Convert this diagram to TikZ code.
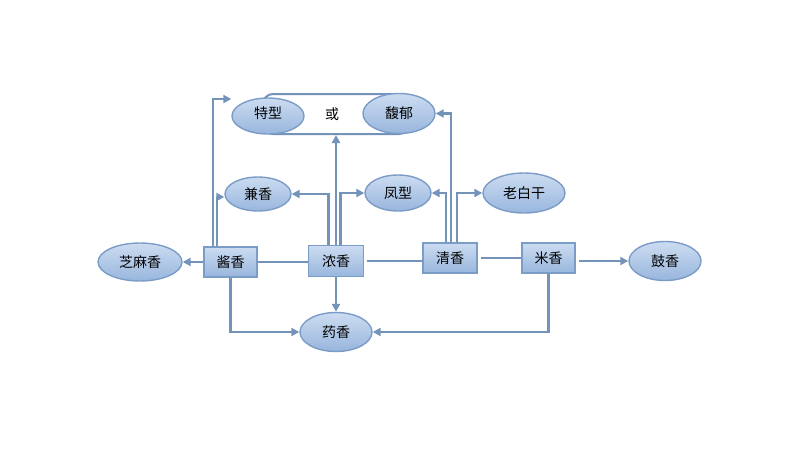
\documentclass[tikz,border=0pt]{standalone}
\usepackage{fontspec}
\newfontfamily\cjk{Noto Sans CJK SC}
\usetikzlibrary{shapes.geometric,arrows.meta}
\definecolor{lineblue}{HTML}{7393BA}
\definecolor{filltop}{HTML}{CCDCF1}
\definecolor{fillbot}{HTML}{98B6DD}
\definecolor{edgeblue}{HTML}{7B9CC6}
\tikzset{
  oval/.style={ellipse, draw=edgeblue, line width=1.4pt, top color=filltop, bottom color=fillbot,
    inner sep=0pt, font=\cjk\fontsize{14}{14}\selectfont},
  boxnode/.style={rectangle, draw=edgeblue, line width=1.8pt, top color=filltop, bottom color=fillbot,
    minimum width=53pt, minimum height=30pt, inner sep=0pt, font=\cjk\fontsize{14}{14}\selectfont},
  conn/.style={draw=lineblue, line width=2.3pt},
  arr/.style={conn, -{Triangle[length=8pt,width=8pt]}},
  grpshape/.style={draw=lineblue, line width=2pt, rounded corners=10pt, minimum width=146pt, minimum height=40pt, inner sep=0pt},
  plain/.style={font=\cjk\fontsize{14}{14}\selectfont, inner sep=0pt}
}
\begin{document}
\begin{tikzpicture}[x=1pt,y=-1pt]
\useasboundingbox (0,0) rectangle (800,456);
\fill[white] (0,0) rectangle (800,456);
% group outline
\node[grpshape] (grp) at (336,114) {};
% ovals
\node[oval, minimum width=72pt, minimum height=36pt] (tx) at (268,116) {};
\node[plain] at (268,113) {特型};
\node[oval, minimum width=72pt, minimum height=40pt] (fy) at (399,113.5) {馥郁};
\node[plain] (huo) at (332,114) {或};
\node[oval, minimum width=66pt, minimum height=34pt] (jxh) at (258,194) {兼香};
\node[oval, minimum width=66pt, minimum height=36pt] (fx) at (398,193) {凤型};
\node[oval, minimum width=82pt, minimum height=40pt] (lb) at (524,193) {老白干};
\node[oval, minimum width=84pt, minimum height=38pt] (zm) at (140,262) {芝麻香};
\node[oval, minimum width=72pt, minimum height=39pt] (gx) at (665,261) {鼓香};
\node[oval, minimum width=72pt, minimum height=39pt] (yx) at (336,332) {药香};
% boxes
\node[boxnode] (jx) at (230.5,262) {酱香};
\node[boxnode, minimum width=55pt, minimum height=31pt] (nx) at (336,261) {浓香};
\node[boxnode, minimum width=54pt] (qx) at (450,258) {清香};
\node[boxnode] (mx) at (548.5,258) {米香};
% connectors
\draw[arr] (jx.west) -- (zm.east);
\draw[conn] (jx.east) -- (jx.east -| nx.west);
\draw[conn] ([xshift=3pt]nx.east) -- (nx.east -| qx.west);
\draw[conn] ([xshift=3pt]qx.east) -- (mx.west);
\draw[arr] ([xshift=3pt]mx.east |- gx.west) -- (gx.west);
\draw[arr] (jx.south) |- (yx.west);
\draw[arr] (mx.south) |- (yx.east);
\draw[arr] (nx.south) -- (yx.north);
\draw[arr] ([xshift=-17.5pt]jx.north) |- ([yshift=17pt]tx.west);
\draw[arr] ([xshift=-13.5pt]jx.north) |- ([yshift=-3pt]jxh.west);
\draw[arr] ([xshift=-7.5pt]nx.north) |- (jxh.east);
\draw[arr] (nx.north) -- (grp.south);
\draw[arr] ([xshift=4.5pt]nx.north) |- (fx.west);
\draw[arr] ([xshift=-4pt]qx.north) |- (fx.east);
\draw[arr] ([xshift=1pt]qx.north) |- (fy.east);
\draw[arr] ([xshift=7pt]qx.north) |- (lb.west);
\end{tikzpicture}
\end{document}
